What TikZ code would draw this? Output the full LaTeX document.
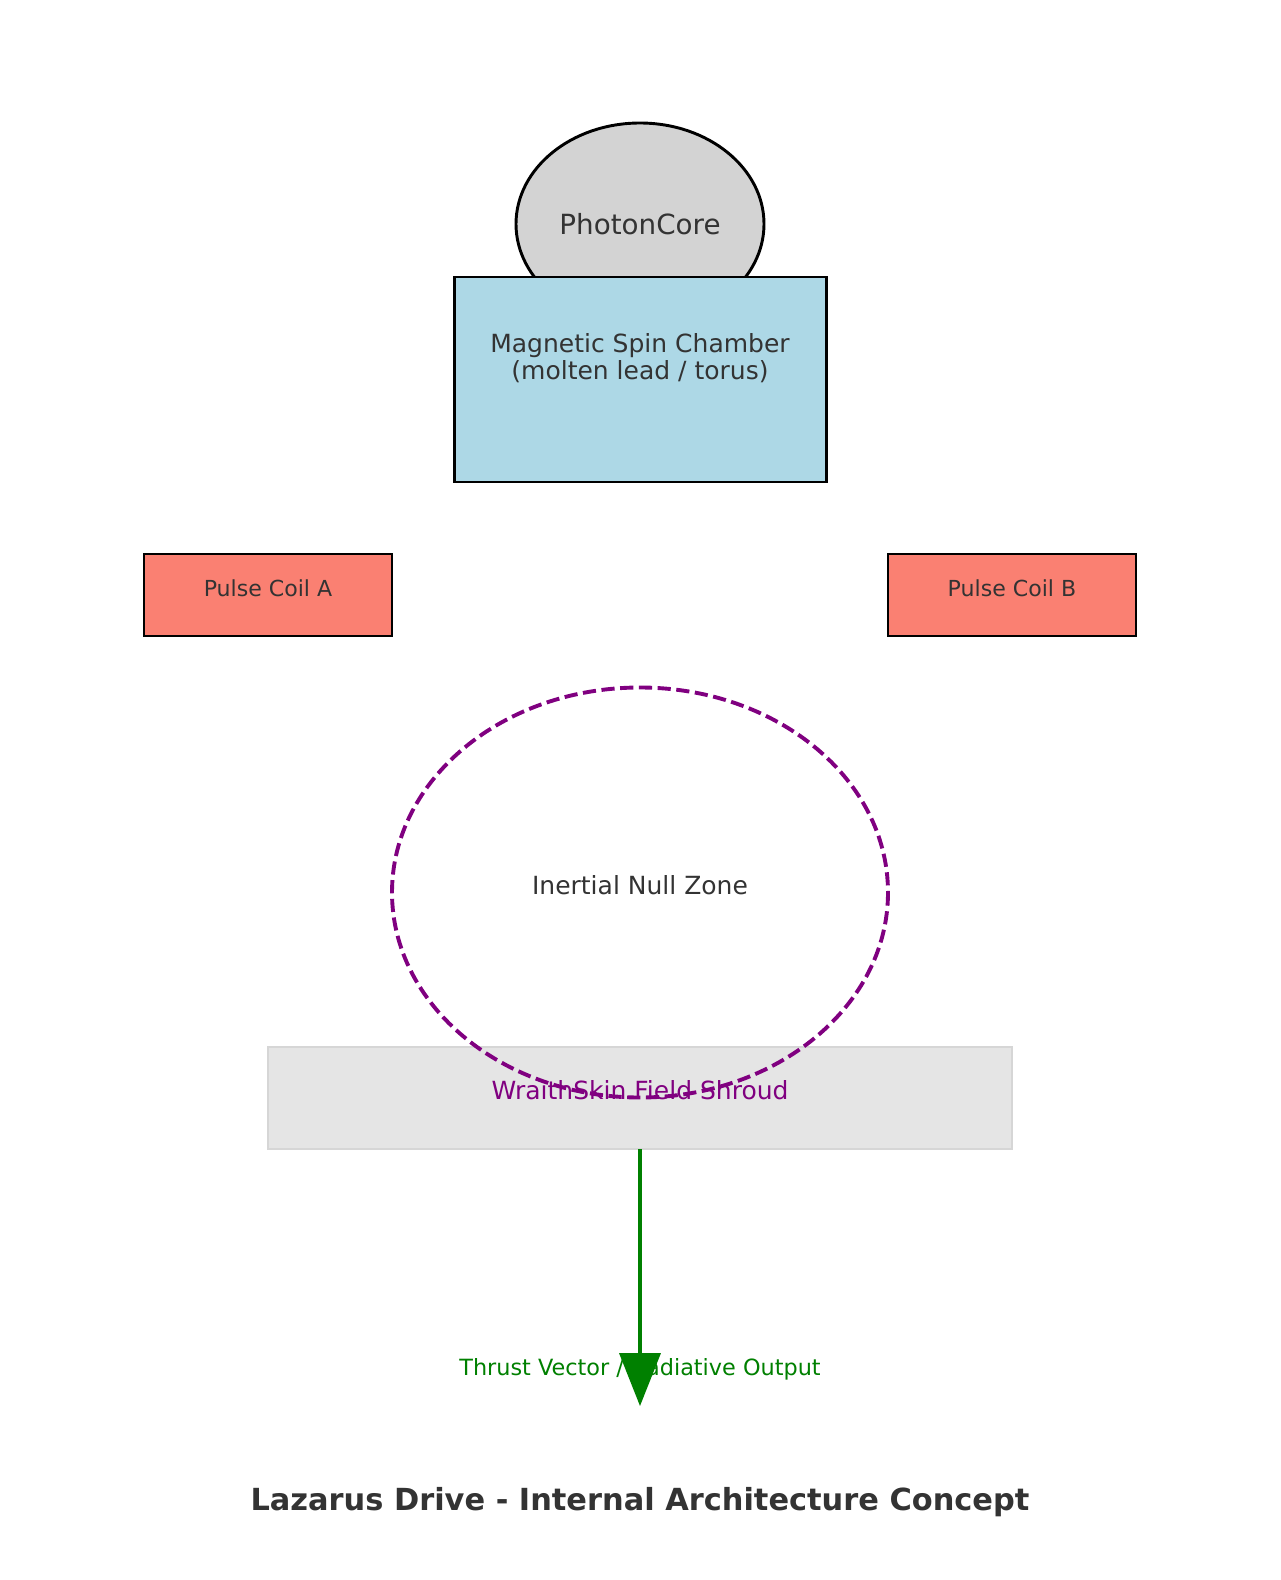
\documentclass[tikz,border=0pt]{standalone}
\usepackage{fontspec}
\setmainfont{DejaVu Sans}
\usetikzlibrary{shapes.geometric,arrows.meta}
\definecolor{txtgray}{HTML}{333333}
\definecolor{corefill}{HTML}{D3D3D3}
\definecolor{chamberfill}{HTML}{ADD8E6}
\definecolor{coilfill}{HTML}{FA8072}
\definecolor{shroudfill}{HTML}{E5E5E5}
\definecolor{shroudline}{HTML}{D6D6D6}
\definecolor{nullpurple}{HTML}{800080}
\definecolor{thrustgreen}{HTML}{008000}
\tikzset{
  label/.style={text=txtgray, inner sep=0pt, align=center},
  solidbox/.style={draw=black, line width=2.1pt},
}
\begin{document}
\begin{tikzpicture}[x=0.72pt,y=-0.72pt]
\useasboundingbox[fill=white] (0,0) rectangle (1280,1580);
% PhotonCore
\draw[solidbox, fill=corefill] (640,224) ellipse [x radius=124, y radius=101];
\node[label, font=\fontsize{20}{22}\selectfont] (core) at (640,224) {PhotonCore};
% Magnetic Spin Chamber
\draw[solidbox, fill=chamberfill] (454.5,277) rectangle (826.5,482);
\coordinate (chamber) at (640,379.5);
\node[label, font=\fontsize{18}{19.6}\selectfont] (chambertext) at (640,358.5) {Magnetic Spin Chamber\\(molten lead / torus)};
% Pulse coils
\draw[solidbox, fill=coilfill] (144,554) rectangle (392,636);
\node[label, font=\fontsize{15.9}{18}\selectfont] (coilA) at (268,588) {Pulse Coil A};
\draw[solidbox, fill=coilfill] (888,554) rectangle (1136,636);
\node[label, font=\fontsize{15.9}{18}\selectfont] (coilB) at (1012,588) {Pulse Coil B};
% Shroud
\draw[draw=shroudline, line width=2pt, fill=shroudfill] (268,1047) rectangle (1012,1149);
\coordinate (shroudbottom) at (640,1149);
% Inertial Null Zone
\draw[nullpurple, line width=2.8pt, dash pattern=on 9.5pt off 4pt] (640,892.5) ellipse [x radius=248, y radius=205];
\node[label, font=\fontsize{18}{20}\selectfont] (null) at (640,885) {Inertial Null Zone};
\node[label, text=nullpurple, font=\fontsize{18}{20}\selectfont] (shroud) at (640,1090) {WraithSkin Field Shroud};
% Thrust
\node[label, text=thrustgreen, font=\fontsize{16.1}{18}\selectfont] (thrust) at (640,1369) {Thrust Vector / Radiative Output};
\coordinate (tip) at (640,1406);
\draw[thrustgreen, line width=2.3pt, -{Triangle[width=29.5pt,length=38pt]}] (shroudbottom) -- (tip);
% Title
\node[label, font=\bfseries\fontsize{21.9}{25}\selectfont] (title) at (640,1502) {Lazarus Drive - Internal Architecture Concept};
\end{tikzpicture}
\end{document}
